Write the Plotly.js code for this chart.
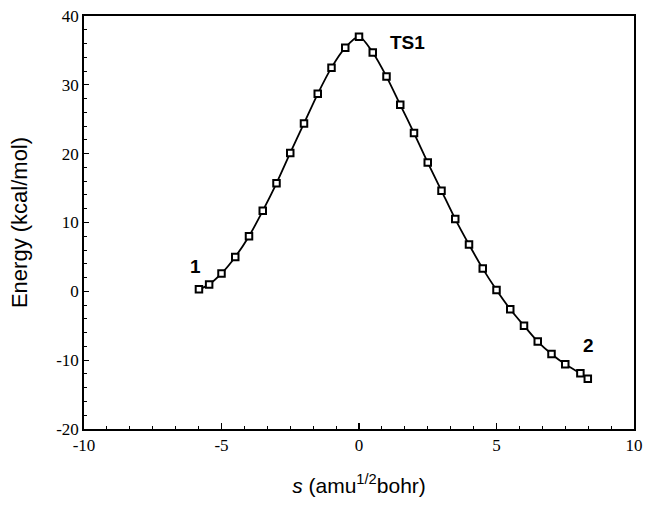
<!DOCTYPE html>
<html>
<head>
<meta charset="utf-8">
<script src="https://cdn.plot.ly/plotly-3.0.1.min.js"></script>
<style>html,body{margin:0;padding:0;background:#fff;}#chart{width:645px;height:506px;}</style>
</head>
<body>
<div id="chart"></div>
<script>
// Reaction coordinate s (amu^1/2 bohr)
const sValues = [-5.82, -5.45, -5.0, -4.5, -4.0, -3.5, -3.0, -2.5, -2.0, -1.5, -1.0, -0.5, 0.0,
                 0.5, 1.0, 1.5, 2.0, 2.5, 3.0, 3.5, 4.0, 4.5, 5.0, 5.5, 6.0, 6.5, 7.0, 7.5, 8.05, 8.32];
// Energy (kcal/mol)
const energyValues = [0.3, 1.0, 2.6, 5.0, 8.0, 11.7, 15.7, 20.1, 24.4, 28.7, 32.5, 35.4, 37.0,
                      34.7, 31.2, 27.1, 23.0, 18.7, 14.6, 10.5, 6.8, 3.3, 0.2, -2.6, -5.0, -7.3, -9.1, -10.6, -11.9, -12.7];
// Tick labels
const xTickVals = [-10, -5, 0, 5, 10];
const xTickText = ["-10", "-5", "0", "5", "10"];
const yTickVals = [-20, -10, 0, 10, 20, 30, 40];
const yTickText = ["-20", "-10", "0", "10", "20", "30", "40"];
// Point labels
const labelText = ["1", "TS1", "2"];
const labelS = [-5.94, 1.75, 8.36];
const labelE = [3.6, 36.1, -7.8];

const serif = 'Liberation Serif';
const sans = 'Liberation Sans';

const traces = [{
  x: sValues, y: energyValues,
  type: 'scatter', mode: 'lines+markers',
  line: {color: '#000', width: 1.8, shape: 'spline', smoothing: 0.8},
  marker: {symbol: 'square', size: 6.5, color: '#fff', line: {color: '#000', width: 2}},
  hoverinfo: 'none', showlegend: false
}];

const annotations = labelText.map((t, i) => ({
  x: labelS[i], y: labelE[i], xref: 'x', yref: 'y', text: '<b>' + t + '</b>',
  showarrow: false, font: {family: sans, size: 19, color: '#000'}
}));

const layout = {
  width: 645, height: 506,
  margin: {l: 84, r: 11, t: 16, b: 77},
  paper_bgcolor: '#fff', plot_bgcolor: '#fff',
  showlegend: false,
  xaxis: {
    range: [-10, 10], tickmode: 'array', tickvals: xTickVals, ticktext: xTickText,
    ticks: 'inside', ticklen: 6, tickwidth: 1.2, tickcolor: '#000',
    minor: {dtick: 5/6, tick0: 0, ticks: 'inside', ticklen: 3, tickcolor: '#000', tickwidth: 1},
    showline: true, linecolor: '#000', linewidth: 1.8, mirror: true, showgrid: false, zeroline: false,
    tickfont: {family: serif, size: 17, color: '#000'},
    title: {text: '<i>s</i> (amu<sup>1/2</sup>bohr)', standoff: 24,
            font: {family: sans, size: 21, color: '#000'}}
  },
  yaxis: {
    range: [-20, 40], tickmode: 'array', tickvals: yTickVals, ticktext: yTickText,
    ticks: 'inside', ticklen: 5, tickwidth: 1.2, tickcolor: '#000',
    minor: {dtick: 2, ticks: 'inside', ticklen: 3, tickcolor: '#000', tickwidth: 1},
    showline: true, linecolor: '#000', linewidth: 1.8, mirror: true, showgrid: false, zeroline: false,
    tickfont: {family: serif, size: 17, color: '#000'},
    title: {text: 'Energy (kcal/mol)', standoff: 22,
            font: {family: sans, size: 22, color: '#000'}}
  },
  annotations: annotations
};

Plotly.newPlot('chart', traces, layout, {displayModeBar: false, staticPlot: true});
</script>
</body>
</html>
